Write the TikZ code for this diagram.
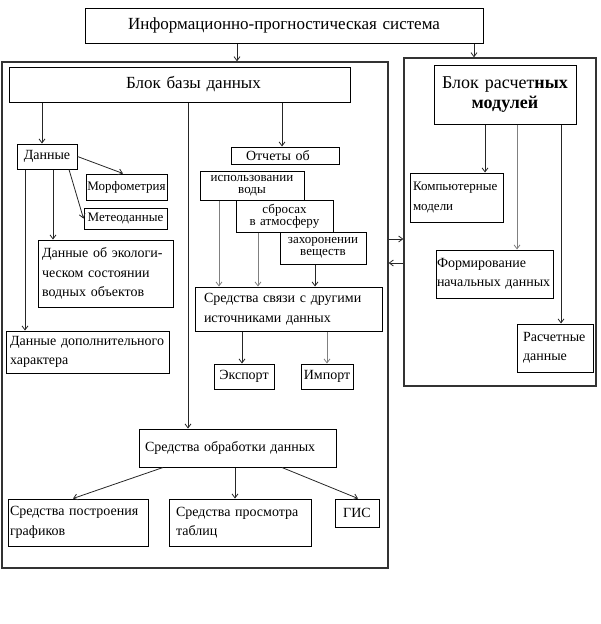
\documentclass[tikz,border=0pt]{standalone}
\usepackage{fontspec}
\setmainfont{Liberation Serif}[WordSpace=1.8]
\usetikzlibrary{arrows.meta}
\newcommand\bodyfs{\fontsize{14}{19.5}\selectfont}
\newcommand\smallfs{\fontsize{13}{19.5}\selectfont}
\newcommand\stackfs{\fontsize{13}{12.5}\selectfont}
\newcommand\bbox[8]{%
  \pgfmathsetmacro\bxw{#5-#3}%
  \pgfmathsetmacro\bxh{#6-#4}%
  \pgfmathsetmacro\bxt{#5-#3-2*#7}%
  \pgfmathsetmacro\bxcx{(#3+#5)/2}%
  \pgfmathsetmacro\bxcy{(#4+#6)/2}%
  \node[bx,minimum width=\bxw pt,minimum height=\bxh pt,text width=\bxt pt,#1] (#2) at (\bxcx,\bxcy) {#8};}
\tikzset{
  bx/.style={draw=black, line width=1pt, inner sep=0pt, font=\bodyfs, align=left},
  outerbox/.style={draw=black!80, line width=1.4pt},
  arr/.style={-{Straight Barb[length=4pt,width=6pt]}, line width=0.8pt, draw=black!85},
  garr/.style={arr, draw=black!50},
}
\begin{document}
\begin{tikzpicture}[x=1pt,y=-1pt]
\useasboundingbox (0,0) rectangle (600,624);
% outer frames
\bbox{outerbox}{lo}{2}{62}{388}{568}{0}{}
\bbox{outerbox}{ro}{404}{58}{596}{386}{0}{}
% top
\bbox{align=center,font=\fontsize{17}{19}\selectfont}{top}{85}{8}{483}{43}{2}{Информационно-прогностическая система}
% left block
\bbox{align=center,font=\fontsize{17}{19}\selectfont}{bd}{9}{67}{350}{102}{2}{\hspace*{28pt}Блок~базы~данных}
\bbox{align=center}{dn}{17}{144}{77}{169}{1}{Данные}
\bbox{align=center,font=\smallfs}{morf}{86}{174}{167}{200}{1}{Морфометрия}
\bbox{align=center,font=\smallfs}{meteo}{84}{208}{167}{229}{1}{Метеоданные}
\bbox{}{des}{38}{240}{173}{307}{4}{Данные~об~экологи-\\ческом~состоянии\\водных~объектов}
\bbox{}{ddx}{6}{331}{169}{373}{4}{Данные~дополнительного\\характера}
\bbox{}{otch}{231}{147}{339}{164}{15}{Отчеты~об}
\bbox{align=center,font=\stackfs}{isp}{200}{171}{304}{200}{2}{использовании\\воды}
\bbox{align=center,font=\stackfs}{sbr}{236}{200}{333}{232}{2}{сбросах\\в~атмосферу}
\bbox{align=center,font=\stackfs}{zah}{280}{232}{366}{264}{2}{захоронении\\веществ}
\bbox{}{ssd}{195}{287}{382}{331}{9}{Средства~связи~с~другими\\источниками~данных}
\bbox{align=center}{exp}{214}{364}{274}{389}{1}{Экспорт}
\bbox{align=center}{imp}{301}{364}{353}{389}{1}{Импорт}
\bbox{}{sod}{139}{429}{336}{467}{6}{Средства~обработки~данных}
\bbox{}{spg}{8}{499}{148}{546}{2}{Средства~построения\\графиков}
\bbox{}{spt}{169}{499}{311}{546}{7}{Средства~просмотра\\таблиц}
\bbox{align=center}{gis}{335}{499}{379}{527}{1}{ГИС}
% right block
\bbox{align=center,font=\fontsize{18}{20}\selectfont}{brm}{434}{65}{576}{124}{1}{Блок~расчет\textbf{ных}\\\textbf{модулей}}
\bbox{font=\smallfs}{km}{410}{173}{503}{222}{3}{Компьютерные\\модели}
\bbox{}{fnd}{436}{250}{553}{298}{1}{Формирование\\начальных~данных}
\bbox{}{rd}{517}{324}{593}{372}{6}{Расчетные\\данные}
% connectors
\draw[arr] (top.south -| 237,0) -- (lo.north -| 237,0);
\draw[arr] (top.south -| 474,0) -- (ro.north -| 474,0);
\draw[arr] (bd.south -| 42,0) -- (dn.north -| 42,0);
\draw[arr] (bd.south -| 188,0) -- (sod.north -| 188,0);
\draw[arr] (bd.south -| 282,0) -- (otch.north -| 282,0);
\draw[arr] (dn.east) -- (morf.north -| 123,0);
\draw[arr] (dn.south -| 69,0) -- (meteo.west);
\draw[arr] (dn.south -| 25,0) -- (ddx.north -| 25,0);
\draw[arr] (dn.south -| 53,0) -- (des.north -| 53,0);
\draw[garr] (isp.south -| 219,0) -- (ssd.north -| 219,0);
\draw[garr] (sbr.south -| 258,0) -- (ssd.north -| 258,0);
\draw[arr] (zah.south -| 315,0) -- (ssd.north -| 315,0);
\draw[arr] (ssd.south -| 242,0) -- (exp.north -| 242,0);
\draw[garr] (ssd.south -| 327,0) -- (imp.north -| 327,0);
\draw[arr] (sod.south -| 163,0) -- (spg.north -| 73,0);
\draw[arr] (sod.south -| 235,0) -- (spt.north -| 235,0);
\draw[arr] (sod.south -| 282,0) -- (gis.north -| 358,0);
\draw[arr] (brm.south -| 485,0) -- (km.north -| 485,0);
\draw[garr] (brm.south -| 517,0) -- (fnd.north -| 517,0);
\draw[arr] (brm.south -| 561,0) -- (rd.north -| 561,0);
\draw[arr] (lo.east |- 0,239) -- (ro.west |- 0,239);
\draw[arr] (ro.west |- 0,263) -- (lo.east |- 0,263);
\end{tikzpicture}
\end{document}
